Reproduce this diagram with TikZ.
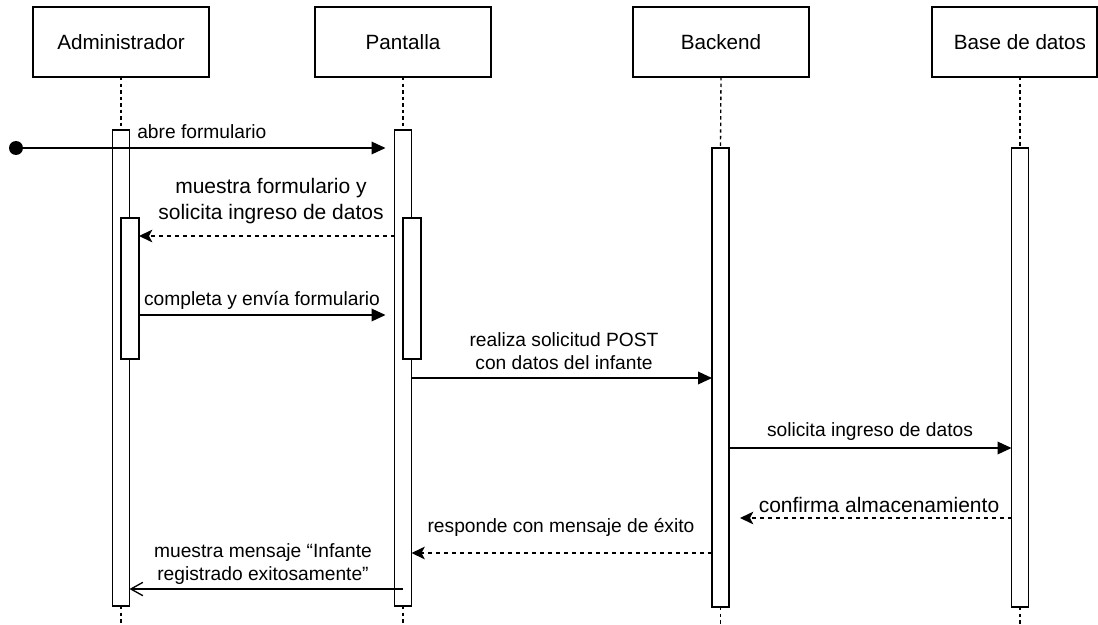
\documentclass[tikz,border=0pt]{standalone}
\usepackage{fontspec}
\setmainfont{Liberation Sans}
\usetikzlibrary{arrows.meta}

\begin{document}
\begin{tikzpicture}[x=0.75pt,y=-0.75pt,
  head/.style={draw, line width=1.1pt, fill=white, minimum width=132pt,
    minimum height=52.5pt, inner sep=0pt, outer sep=0pt,
    font=\fontsize{15.5}{18}\selectfont},
  lifeline/.style={line width=1pt, dash pattern=on 2.6pt off 2.3pt},
  actbar/.style={draw, fill=white, line width=1.1pt, minimum width=12.75pt,
    inner sep=0pt, outer sep=0pt, anchor=north},
  msg/.style={line width=1pt, -{Triangle[length=10.5pt,width=9.5pt]}},
  reply/.style={line width=1pt, dash pattern=on 3pt off 3pt,
    -{Stealth[length=10pt,width=9.5pt,inset=2.5pt]}},
  openmsg/.style={line width=1pt, -{Straight Barb[length=9pt,width=10pt]}},
  lbl/.style={font=\fontsize{14.4}{17.25}\selectfont, align=center, inner sep=0pt},
  biglbl/.style={font=\fontsize{15.75}{19.5}\selectfont, align=center, inner sep=0pt}
]
\useasboundingbox (0,0) rectangle (1098,624);

% participants
\node[head] (admin) at (121,42) {Administrador};
\node[head] (screen) at (403,42) {Pantalla};
\node[head] (backend) at (721,42) {Backend};
\node[head, minimum width=123.75pt] (db) at (1014.5,42) {\hspace{8.25pt}Base de datos};

% activation bars
\node[actbar, minimum height=357pt] (abar) at (121,130) {};
\node[actbar, minimum height=357pt] (pbar) at (403,130) {};
\node[actbar, minimum height=344.25pt] (bbar) at (720.5,148) {};
\node[actbar, minimum height=344.25pt] (dbar) at (1020,148) {};

% lifelines
\coordinate (bottom) at (0,624);
\draw[lifeline] (admin.south) -- (abar.north);
\draw[lifeline] (screen.south) -- (pbar.north);
\draw[lifeline] (backend.south) -- (bbar.north);
\draw[lifeline] (db.south -| dbar.north) -- (dbar.north);
\draw[lifeline] (abar.south) -- (abar.south |- bottom);
\draw[lifeline] (pbar.south) -- (pbar.south |- bottom);
\draw[lifeline] (bbar.south) -- (bbar.south |- bottom);
\draw[lifeline] (dbar.south) -- (dbar.south |- bottom);

% nested activations
\node[actbar, minimum width=13.5pt, minimum height=105.75pt] (ainner) at (130,218) {};
\node[actbar, minimum width=13.5pt, minimum height=105.75pt] (pinner) at (412,218) {};

% message levels
\coordinate (y1) at (0,148);
\coordinate (y2) at (0,236);
\coordinate (y3) at (0,315);
\coordinate (y4) at (0,378);
\coordinate (y5) at (0,448);
\coordinate (y6) at (0,518);
\coordinate (y7) at (0,553);
\coordinate (y8) at (0,589);

% messages
\node[circle, fill=black, inner sep=0pt, minimum size=10.5pt] (start) at (16,148) {};
\draw[msg] (start) -- ([xshift=-6.75pt]pbar.west |- y1);
\node[lbl, anchor=west] (l1) at (137,132) {abre formulario};

\draw[reply] (pbar.west |- y2) -- (ainner.east |- y2);
\node[biglbl] (l2) at (271,201) {muestra formulario y\\solicita ingreso de datos};

\draw[msg] (ainner.east |- y3) -- ([xshift=-6.75pt]pbar.west |- y3);
\node[lbl] (l3) at (262,300) {completa y envía formulario};

\draw[msg] (pbar.east |- y4) -- (bbar.west |- y4);
\node[lbl] (l4) at (564,351) {realiza solicitud POST\\con datos del infante};

\draw[msg] (bbar.east |- y5) -- (dbar.west |- y5);
\node[lbl] (l5) at (870,432) {solicita ingreso de datos};

\draw[reply] (dbar.west |- y6) -- ([xshift=8.25pt]bbar.east |- y6);
\node[biglbl] (l6) at (879,505) {confirma almacenamiento};

\draw[reply] (bbar.west |- y7) -- (pbar.east |- y7);
\node[lbl] (l7) at (561,527) {responde con mensaje de éxito};

\draw[openmsg] (pbar.center |- y8) -- (abar.east |- y8);
\node[lbl] (l8) at (263,564) {muestra mensaje “Infante\\registrado exitosamente”};
\end{tikzpicture}
\end{document}
